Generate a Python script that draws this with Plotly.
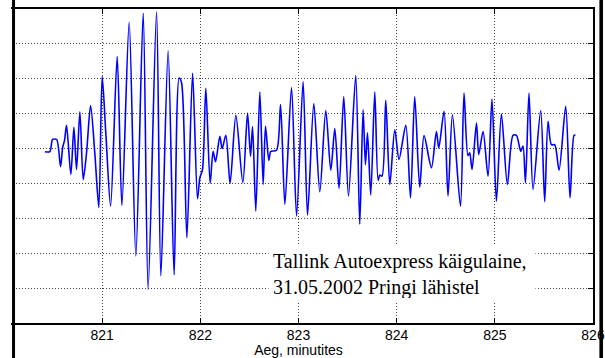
import plotly.graph_objects as go

# Wave record: time in minutes, water level deviation
time_min = [
    820.417, 820.467, 820.495, 820.536, 820.576, 820.597, 820.617, 820.637, 820.681, 820.712,
    820.739, 820.773, 820.807, 820.841, 820.882, 820.926, 820.966, 821.000, 821.038, 821.086,
    821.153, 821.201, 821.275, 821.343, 821.418, 821.468, 821.554, 821.598, 821.672, 821.733,
    821.784, 821.809, 821.863, 821.921, 821.971, 821.995, 822.022, 822.056, 822.100, 822.130,
    822.155, 822.199, 822.222, 822.260, 822.303, 822.362, 822.433, 822.481, 822.511, 822.532,
    822.565, 822.606, 822.640, 822.664, 822.698, 822.718, 822.776, 822.817, 822.861, 822.929,
    822.980, 823.047, 823.092, 823.156, 823.217, 823.278, 823.329, 823.370, 823.413, 823.461,
    823.509, 823.583, 823.624, 823.658, 823.682, 823.703, 823.736, 823.777, 823.811, 823.828,
    823.851, 823.889, 823.930, 823.981, 824.024, 824.093, 824.141, 824.184, 824.235, 824.279,
    824.354, 824.405, 824.429, 824.483, 824.523, 824.568, 824.650, 824.686, 824.726, 824.744,
    824.768, 824.813, 824.836, 824.880, 824.931, 824.971, 825.016, 825.067, 825.128, 825.185,
    825.220, 825.264, 825.287, 825.312, 825.348, 825.389, 825.467, 825.508, 825.542, 825.576,
    825.610, 825.654, 825.722, 825.766, 825.807, 825.821,
]
level_cm = [
    -0.9, -0.9, 2.6, 2.6, -5.2, 0.2, 2.4, 6.7, -7.4, 6.1,
    -6.0, 10.5, -8.9, -1.2, 12.3, -1.7, -16.9, 20.7, 4.0, -16.5,
    26.4, -16.3, 36.2, -30.8, 38.8, -40.3, 39.2, -36.5, 28.0, -36.2,
    20.2, 18.8, -25.5, 21.6, -14.4, -8.4, -6.0, 17.3, -10.0, -0.8,
    -3.8, 3.5, 0.0, 3.8, -10.0, 9.5, -9.8, 10.2, -2.2, 6.3,
    -17.9, 16.2, -10.3, 6.4, -3.4, -0.8, -0.5, 12.6, -16.0, 17.5,
    -19.3, 19.1, -19.1, 12.9, -12.4, 10.9, -6.2, 5.7, -11.4, 14.9,
    -13.6, 20.9, -21.7, 11.1, -4.6, 4.5, -13.3, 16.2, -9.1, -7.6,
    -7.9, 13.8, -10.3, 5.4, -3.1, 6.7, -14.1, 14.9, -11.1, 3.7,
    -5.5, 4.9, 0.2, 10.7, -13.6, 9.7, -16.5, 15.9, -2.0, -1.2,
    -6.0, 7.3, -1.7, 4.9, -7.9, 14.2, -15.1, 9.9, -10.3, 3.8,
    3.8, -0.8, 0.7, -9.8, 15.9, -11.7, 10.9, -15.2, 7.8, 1.1,
    1.1, -6.2, 12.1, -14.1, 3.8, 3.8,
]
x_ticks = [820, 821, 822, 823, 824, 825, 826]
x_tick_labels = ["820", "821", "822", "823", "824", "825", "826"]
x_title = "Aeg, minutites"
note_text = "Tallink Autoexpress käigulaine,<br>31.05.2002 Pringi lähistel"

fig = go.Figure()
fig.add_trace(go.Scatter(
    x=time_min, y=level_cm, mode="lines",
    line=dict(color="#0000ff", width=1.6, shape="spline", smoothing=0.8),
    hoverinfo="skip", showlegend=False,
))

sans = "Liberation Sans, Arial, sans-serif"
serif = "Liberation Serif, Times New Roman, serif"
grid_dash = "1px,2px"

fig.update_layout(
    width=605, height=358,
    margin=dict(l=4, r=2, t=9, b=35, pad=0),
    paper_bgcolor="white", plot_bgcolor="white",
    showlegend=False,
    xaxis=dict(
        domain=[0, 0.9833],
        range=[820, 826], tickvals=x_ticks, ticktext=x_tick_labels,
        ticks="inside", ticklen=5, tickwidth=1, tickcolor="black",
        showline=True, linecolor="black", linewidth=2, mirror="allticks",
        showgrid=True, gridcolor="#444444", griddash=grid_dash, gridwidth=1,
        zeroline=False, automargin=False, ticklabelstandoff=-2,
        tickfont=dict(family=sans, size=14, color="black"),
        title=dict(text=x_title, font=dict(family=sans, size=14, color="black"), standoff=4),
    ),
    yaxis=dict(
        range=[-50, 40], dtick=10,
        ticks="inside", ticklen=5, tickwidth=1, tickcolor="black",
        showline=True, linecolor="black", linewidth=2, mirror="allticks",
        showgrid=True, gridcolor="#444444", griddash=grid_dash, gridwidth=1,
        zeroline=False, showticklabels=False, automargin=False,
    ),
    annotations=[dict(
        x=822.687, y=-27.7, xref="x", yref="y",
        xanchor="left", yanchor="top", align="left", valign="middle",
        text=note_text, showarrow=False,
        font=dict(family=serif, size=20, color="black"),
        bgcolor="white", borderpad=4, width=258, height=48,
    )],
    shapes=[
        # cropped page edge on the left (white strip + border line)
        dict(type="rect", xref="paper", yref="paper", x0=-0.01, x1=0.0117,
             y0=-0.2, y1=1.1, fillcolor="white", line=dict(width=0), layer="above"),
        dict(type="rect", xref="paper", yref="paper", x0=0.0134, x1=0.0184,
             y0=-0.2, y1=1.1, fillcolor="black", line=dict(width=0), layer="above"),
        # page border on the right
        dict(type="rect", xref="paper", yref="paper", x0=0.9940, x1=1.0,
             y0=-0.2, y1=1.1, fillcolor="black", line=dict(width=0), layer="above"),
    ],
)

fig.write_html("out.html")
